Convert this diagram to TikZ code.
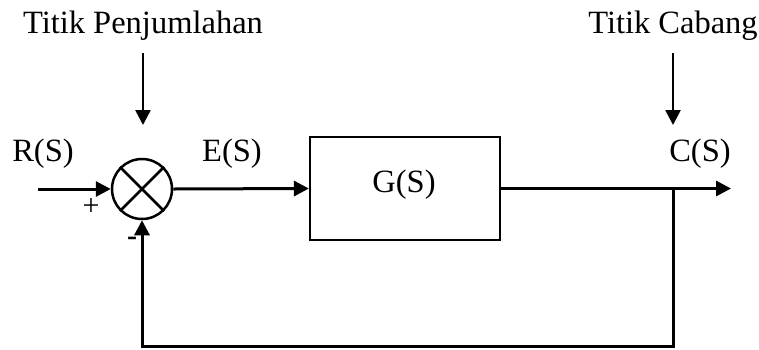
\documentclass[tikz,border=0pt]{standalone}
\usepackage{fontspec}
\setmainfont{Liberation Serif}
\usetikzlibrary{arrows.meta}
\begin{document}
\begin{tikzpicture}[x=1pt,y=-1pt,
  sig/.style={line width=3pt,-{Triangle[length=15pt,width=15pt]}},
  wire/.style={line width=3pt},
  lbl/.style={font=\fontsize{32.5}{37}\selectfont,inner sep=0pt},
  sumj/.style={circle,draw,line width=2.5pt,minimum size=60pt,inner sep=0pt},
  blockbox/.style={draw,line width=2.2pt,minimum width=190pt,minimum height=103pt,inner sep=0pt}]
\useasboundingbox (0,0) rectangle (759,349);
% summing junction with cross
\node[sumj] (sum) at (142,189) {};
\draw[line width=2.5pt] (sum.north west) -- (sum.south east) (sum.north east) -- (sum.south west);
% plant block
\node[blockbox] (g) at (405,188.5) {};
\node[lbl] (gl) at (404,185) {G(S)};
% coordinates
\coordinate (in) at (38,189);
\coordinate (out) at (731,188.5);
\coordinate (br) at (673,188.5);
\coordinate (fb1) at (673,346);
\coordinate (fb2) at (142,346);
\coordinate (t1) at (143,53);
\coordinate (t2) at (673,53);
% labels
\node[lbl] (tp) at (143,26) {Titik Penjumlahan};
\node[lbl] (tc) at (673,26) {Titik Cabang};
\node[lbl] (r) at (43,154) {R(S)};
\node[lbl] (e) at (232,154) {E(S)};
\node[lbl] (c) at (700,154) {C(S)};
\node[font=\fontsize{30}{34}\selectfont,inner sep=0pt] (plus) at (91,207) {+};
\node[font=\bfseries\fontsize{30}{34}\selectfont,inner sep=0pt] (minus) at (132,241) {-};
% signal paths
\draw[sig] (in) -- (sum.west);
\draw[sig] (sum.east) -- (g.west);
\draw[sig] (g.east) -- (out);
\draw[wire] (br) -- (fb1) -- (fb2) -- ++(0,1.5);
\draw[sig] (fb2) -- (sum.south);
% pointer arrows
\draw[sig,line width=2.5pt] (t1) -- (143,125);
\draw[sig,line width=2.5pt] (t2) -- (673,125);
\end{tikzpicture}
\end{document}
